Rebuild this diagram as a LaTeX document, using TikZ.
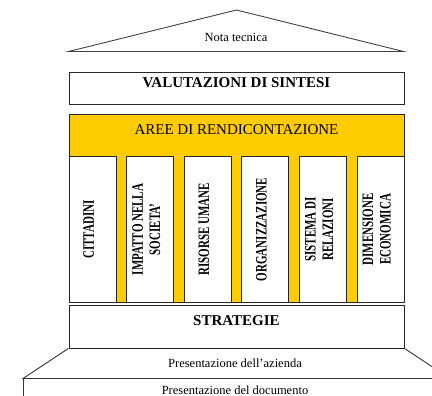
\documentclass[tikz,border=0pt]{standalone}
\usepackage{fontspec}
\setmainfont{Liberation Serif}
\usepackage{tikz}
\definecolor{areegold}{RGB}{255,204,0}
\tikzstyle{block}=[rectangle, draw=black!85, line width=0.9pt, inner sep=0pt, minimum width=335pt, anchor=north west]
\tikzstyle{pillar}=[rectangle, draw=black!85, line width=0.9pt, fill=white, inner sep=0pt, minimum width=47pt, minimum height=146pt, anchor=north west]
\tikzstyle{pillartext}=[rotate=90, inner sep=0pt, font=\fontsize{11}{12}\selectfont\bfseries]
\tikzstyle{caption}=[anchor=base, inner sep=0pt, font=\fontsize{12.5}{14}\selectfont]
\newcommand{\bigfont}{\fontsize{15}{18}\selectfont}
\newcommand{\pillarlabel}[1]{\scalebox{1}[1.45]{\begin{tabular}{@{}c@{}}#1\end{tabular}}}

\begin{document}
\begin{tikzpicture}[x=1pt, y=-1pt]
\path[use as bounding box, clip] (0,0) rectangle (432,396);
% roof
\coordinate (apex) at (236.5,10);
\coordinate (eaveL) at (68.5,51.5);
\coordinate (eaveR) at (403.5,51.5);
\draw[black!75, line width=0.9pt] (eaveL) -- (apex) -- (eaveR) -- cycle;
\node[caption] (nota) at (236,42) {Nota tecnica};
% boxes
\node[block, text height=15pt, text depth=17pt, font=\bigfont\bfseries] (sintesi) at (68.5,72.5) {VALUTAZIONI DI SINTESI};
\node[block, fill=areegold, text height=20pt, text depth=168pt, font=\bigfont] (aree) at (68.5,114) {AREE DI RENDICONTAZIONE};
% pillars
\foreach \lbl [count=\i] in {CITTADINI, {IMPATTO NELLA\\SOCIETA'}, RISORSE UMANE, ORGANIZZAZIONE, {SISTEMA DI\\RELAZIONI}, {DIMENSIONE\\ECONOMICA}}
{
  \node[pillar] (p\i) at ({68.5+57.6*(\i-1)},156) {};
  \node[pillartext] (t\i) at ([xshift=-2pt]p\i.center) {\pillarlabel{\lbl}};
}
\node[block, text height=21pt, text depth=22pt, font=\bigfont\bfseries] (strategie) at (68.5,304.5) {STRATEGIE};
% steps
\coordinate (stepL) at (23,378.5);
\coordinate (stepR) at (450,378.5);
\draw[black!80, line width=0.9pt] (strategie.south west) -- (stepL) -- (stepR) -- (strategie.south east);
\node[caption] (azienda) at (235,367) {Presentazione dell'azienda};
\draw[black!80, line width=0.9pt] (stepL) rectangle (460,420);
\node[caption] (documento) at (235,394) {Presentazione del documento};
\end{tikzpicture}
\end{document}
